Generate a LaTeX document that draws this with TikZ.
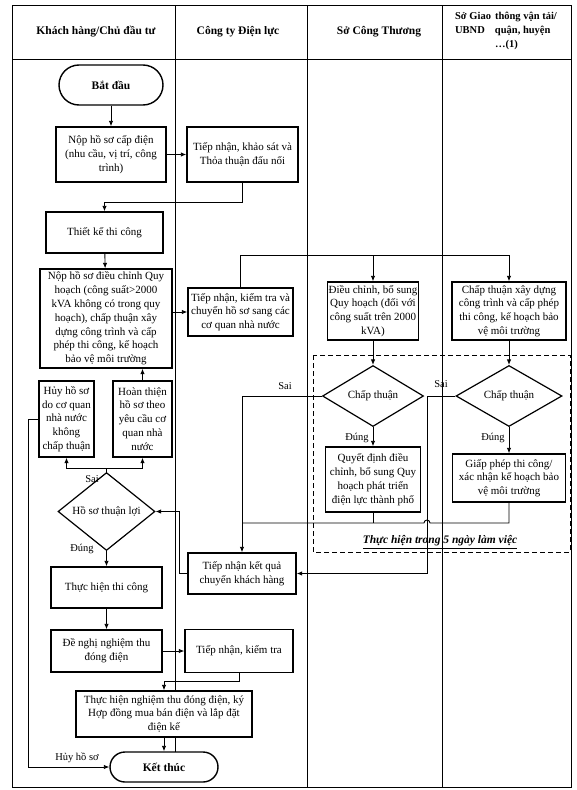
\documentclass[tikz,border=0pt]{standalone}
\usepackage{fontspec}
\setmainfont{Liberation Serif}
\usetikzlibrary{arrows.meta,shapes.geometric,calc}
\begin{document}
\begin{tikzpicture}[x=1pt,y=-1pt,
  box/.style={draw, line width=1.4pt, fill=white, align=center, inner sep=1pt,
    font=\fontsize{11}{13.8}\selectfont},
  term/.style={box, rounded corners=15pt, font=\fontsize{11.5}{13}\selectfont\bfseries},
  dec/.style={draw, line width=1.2pt, diamond, fill=white, inner sep=0pt, align=center,
    font=\fontsize{11}{13}\selectfont},
  arr/.style={-{Latex[length=5.5pt,width=4.5pt]}, line width=0.9pt},
  ln/.style={line width=0.9pt},
  lbl/.style={inner sep=1pt, font=\fontsize{10.5}{12}\selectfont},
  hdr/.style={inner sep=1pt, font=\fontsize{11.5}{14}\selectfont\bfseries},
  frame/.style={line width=0.9pt}
]
\useasboundingbox (0,0) rectangle (576,790);
\fill[white] (0,0) rectangle (576,790);

% swimlane frame
\draw[frame] (12,5) rectangle (571,787);
\draw[frame] (12,59) -- (571,59);
\draw[frame] (175,5) -- (175,752);
\draw[frame] (307,5) -- (307,787);
\draw[frame] (442,5) -- (442,787);
\draw[line width=0.9pt, dash pattern=on 5pt off 3pt] (313,355) rectangle (570,552);

% headers
\node[hdr] (h1) at (96,32) {Khách hàng/Chủ đầu tư};
\node[hdr] (h2) at (238,32) {Công ty Điện lực};
\node[hdr] (h3) at (379,32) {Sở Công Thương};
\node[hdr, font=\fontsize{10.5}{14}\selectfont\bfseries] (h4) at (506,31)
  {\begin{tabular}{@{}l@{\hspace{4pt}}l@{}}Sở Giao & thông vận tải/\\UBND & quận, huyện\\ & …(1)\end{tabular}};

% coordinates
\coordinate (j1) at (0,202);
\coordinate (j2) at (0,255);
\coordinate (j3) at (242,523);
\coordinate (xs2) at (427,0);
\coordinate (k1) at (179,0);
\coordinate (j4) at (0,468);
\coordinate (xh) at (28,0);
\coordinate (j5) at (0,681);

% nodes
\node[term, minimum width=104pt, minimum height=40pt, rounded corners=20pt] (start) at (111,85) {Bắt đầu};
\node[box, minimum width=110pt, minimum height=55pt] (nop1) at (111,154.5) {Nộp hồ sơ cấp điện\\(nhu cầu, vị trí, công\\trình)};
\node[box, minimum width=111pt, minimum height=55pt] (tn1) at (242.5,154.5) {Tiếp nhận, khảo sát và\\Thỏa thuận đấu nối};
\node[box, minimum width=117pt, minimum height=41pt] (tk) at (104.5,232.5) {Thiết kế thi công};
\node[box, minimum width=132pt, minimum height=99pt] (nop2) at (106,318.5) {Nộp hồ sơ điều chỉnh Quy\\hoạch (công suất>2000\\kVA không có trong quy\\hoạch), chấp thuận xây\\dựng công trình và cấp\\phép thi công, kế hoạch\\bảo vệ môi trường};
\node[box, minimum width=105pt, minimum height=48pt] (tn2) at (240.5,312) {Tiếp nhận, kiểm tra và\\chuyển hồ sơ sang các\\cơ quan nhà nước};
\node[box, minimum width=90pt, minimum height=58pt] (dc) at (373,311) {Điều chỉnh, bổ sung\\Quy hoạch (đối với\\công suất trên 2000\\kVA)};
\node[box, minimum width=114pt, minimum height=58pt] (cx) at (509,311) {Chấp thuận xây dựng\\công trình và cấp phép\\thi công, kế hoạch bảo\\vệ môi trường};
\node[dec, minimum width=101pt, minimum height=61pt] (d1) at (373,396) {Chấp thuận};
\node[dec, minimum width=106pt, minimum height=61pt] (d2) at (509,396) {Chấp thuận};
\node[box, minimum width=95pt, minimum height=65pt] (qd) at (373,479.5) {Quyết định điều\\chỉnh, bổ sung Quy\\hoạch phát triển\\điện lực thành phố};
\node[box, minimum width=113pt, minimum height=48pt] (gp) at (509,478) {Giấp phép thi công/\\xác nhận kế hoạch bảo\\vệ môi trường};
\node[box, minimum width=55pt, minimum height=76pt] (huy) at (66.5,419) {Hủy hồ sơ\\do cơ quan\\nhà nước\\không\\chấp thuận};
\node[box, minimum width=59pt, minimum height=76pt] (ht) at (142.5,419) {Hoàn thiện\\hồ sơ theo\\yêu cầu cơ\\quan nhà\\nước};
\node[dec, minimum width=97pt, minimum height=53pt] (d0) at (106.5,511.5) {Hồ sơ thuận lợi};
\node[box, minimum width=108pt, minimum height=41pt] (tnkq) at (242,573.5) {Tiếp nhận kết quả\\chuyển khách hàng};
\node[box, minimum width=111pt, minimum height=41pt] (thtc) at (106.5,587.5) {Thực hiện thi công};
\node[box, minimum width=111pt, minimum height=42pt] (dn) at (106.5,651) {Đề nghị nghiệm thu\\đóng điện};
\node[box, minimum width=108pt, minimum height=43pt] (tn3) at (239,651) {Tiếp nhận, kiểm tra};
\node[box, minimum width=176pt, minimum height=46pt] (thnt) at (164,714) {Thực hiện nghiệm thu đóng điện, ký\\Hợp đồng mua bán điện và lắp đặt\\điện kế};
\node[term, minimum width=108pt, minimum height=30pt] (end) at (164,767) {Kết thúc};

\node[inner sep=1pt, font=\fontsize{11.5}{13}\selectfont\bfseries\itshape] (note) at (440,542) {\underline{Thực hiện trong 5 ngày làm việc}};

% connectors
\draw[arr] (start) -- (nop1);
\draw[arr] (nop1) -- (tn1);
\draw[arr] (tn1.south) |- (tk.north |- j1) -- (tk.north);
\draw[arr] (tk) -- (nop2);
\draw[arr] (nop2.east |- tn2.west) -- (tn2.west);
\draw[arr] (tn2.north) |- (cx.north |- j2) -- (cx.north);
\draw[arr] (dc.north |- j2) -- (dc.north);
\draw[arr] (dc) -- (d1);
\draw[arr] (cx) -- (d2);
\draw[arr] (d1) -- (qd);
\draw[arr] (d2) -- (gp);
\draw[arr] (d1.west) -| (tnkq.north);
\draw[arr] (d2.west) -| (xs2 |- tnkq.east) -- (tnkq.east);
\draw[ln] (qd.south) -- (qd.south |- j3);
\draw[ln] (gp.south) -- (gp.south |- j3) -- ($(xs2 |- j3)+(3,0)$) arc[start angle=0, end angle=180, radius=3pt] -- (j3);
\draw[arr] (tnkq.west) -- (tnkq.west -| k1) |- (d0.east);
\draw[ln] (d0.north) -- (d0.north |- j4);
\draw[arr] (d0.north |- j4) -| (huy.south);
\draw[arr] (d0.north |- j4) -| (ht.south);
\draw[arr] (ht.north) -- (ht.north |- nop2.south);
\draw[arr] (huy.west) -| (xh |- end.west) -- (end.west);
\draw[arr] (d0) -- (thtc);
\draw[arr] (thtc) -- (dn);
\draw[arr] (dn) -- (tn3);
\draw[arr] (tn3.south) |- (thnt.north |- j5) -- (thnt.north);
\draw[arr] (thnt) -- (end);

% labels
\node[lbl] (s0) at (92,479) {Sai};
\node[lbl] (e0) at (82,549) {Đúng};
\node[lbl] (s1) at (285,386) {Sai};
\node[lbl] (e1) at (357,438) {Đúng};
\node[lbl] (s2) at (441,384) {Sai};
\node[lbl] (e2) at (493,438) {Đúng};
\node[lbl] (hl) at (77,758) {Hủy hồ sơ};
\end{tikzpicture}
\end{document}
